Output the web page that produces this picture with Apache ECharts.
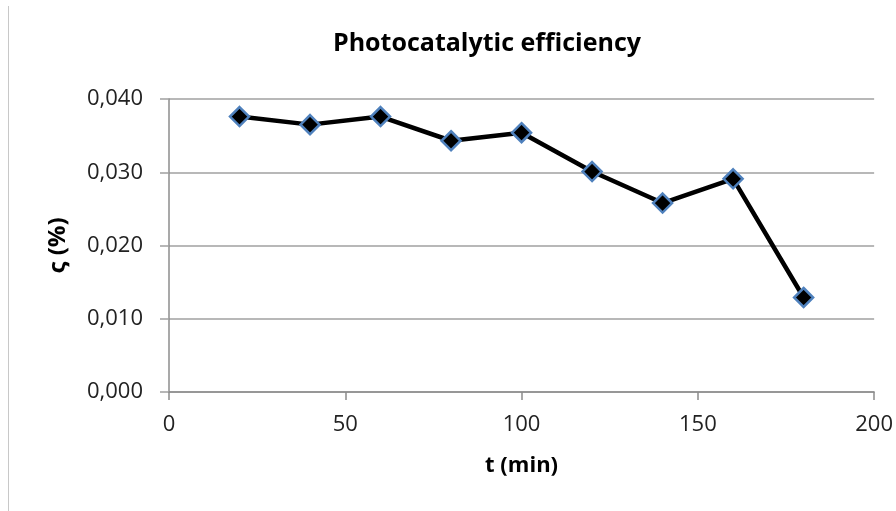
<!DOCTYPE html>
<html>
<head>
<meta charset="utf-8">
<style>
  html, body { margin: 0; padding: 0; background: #ffffff; }
  #chart { width: 896px; height: 511px; }
</style>
<script src="https://cdn.jsdelivr.net/npm/echarts@6/dist/echarts.min.js"></script>
</head>
<body>
<div id="chart"></div>
<script>
// Data
var timeMin = [20, 40, 60, 80, 100, 120, 140, 160, 180];
var efficiency = [0.0376, 0.0365, 0.0376, 0.0343, 0.0354, 0.0301, 0.0258, 0.0291, 0.0129];
var xTicks = [0, 50, 100, 150, 200];
var yTicks = [0.000, 0.010, 0.020, 0.030, 0.040];

var FONT = '"Open Sans", "Noto Sans", sans-serif';
var chart = echarts.init(document.getElementById('chart'), null, { renderer: 'canvas' });

var points = timeMin.map(function (t, i) { return [t, efficiency[i]]; });

chart.setOption({
  animation: false,
  backgroundColor: '#ffffff',
  title: {
    text: 'Photocatalytic efficiency',
    left: 487,
    top: 31,
    textAlign: 'center',
    padding: 0,
    textStyle: { fontFamily: FONT, fontSize: 25, fontWeight: 'bold', color: '#000000' }
  },
  graphic: [{
    type: 'line',
    shape: { x1: 8.5, y1: 6, x2: 8.5, y2: 511 },
    style: { stroke: '#c8c8c8', lineWidth: 1 },
    silent: true
  }],
  grid: { left: 169, right: 21, top: 99, bottom: 119, containLabel: false },
  xAxis: {
    type: 'value',
    min: xTicks[0],
    max: xTicks[xTicks.length - 1],
    interval: xTicks[1] - xTicks[0],
    name: 't (min)',
    nameLocation: 'middle',
    nameGap: 63,
    nameTextStyle: { fontFamily: FONT, fontSize: 22, fontWeight: 'bold', color: '#000000' },
    axisLine: { show: true, lineStyle: { color: '#8c8c8c', width: 1.5 } },
    axisTick: { show: true, length: 8, lineStyle: { color: '#8c8c8c', width: 1.5 } },
    axisLabel: { fontFamily: FONT, fontSize: 22, color: '#222222', margin: 22 },
    splitLine: { show: false }
  },
  yAxis: {
    type: 'value',
    min: yTicks[0],
    max: yTicks[yTicks.length - 1],
    interval: yTicks[1] - yTicks[0],
    name: 'ς (%)',
    nameLocation: 'middle',
    nameGap: 99,
    nameRotate: 90,
    nameTextStyle: { fontFamily: FONT, fontSize: 24, fontWeight: 'bold', color: '#000000' },
    axisLine: { show: true, lineStyle: { color: '#8c8c8c', width: 1.5 } },
    axisTick: { show: true, length: 9, lineStyle: { color: '#a0a0a0', width: 1.5 } },
    axisLabel: {
      fontFamily: FONT, fontSize: 22, color: '#222222', margin: 26,
      formatter: function (v) { return v.toFixed(3).replace('.', ','); }
    },
    splitLine: { show: true, lineStyle: { color: '#a0a0a0', width: 1.5 } }
  },
  series: [{
    type: 'line',
    data: points,
    symbol: 'diamond',
    symbolSize: 19,
    lineStyle: { color: '#000000', width: 4.5 },
    itemStyle: { color: '#000000', borderColor: '#4f81bd', borderWidth: 2.5 },
    z: 3
  }]
});
</script>
</body>
</html>
